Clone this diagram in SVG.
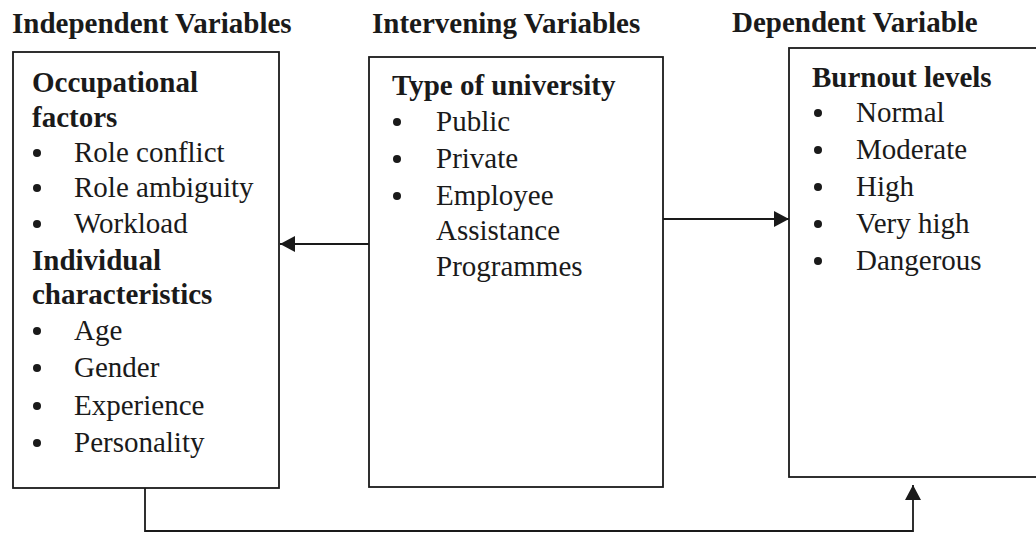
<svg xmlns="http://www.w3.org/2000/svg" width="1036" height="537" viewBox="0 0 1036 537">
<style>
text{font-family:"Liberation Serif","Times New Roman",serif;font-size:29px;fill:#1a1a1a}
.b{font-weight:bold}
.box{fill:#fff;stroke:#1a1a1a;stroke-width:1.8}
.dot{fill:#1a1a1a}
.con{fill:none;stroke:#1a1a1a;stroke-width:1.8}
</style>
<defs>
<marker id="ah" markerUnits="userSpaceOnUse" markerWidth="16" markerHeight="16" refX="15" refY="8" orient="auto">
<path d="M0,0 L15,8 L0,16 Z" fill="#1a1a1a"/>
</marker>
</defs>
<rect width="1036" height="537" fill="#fff"/>
<g id="headers">
<text class="b" x="12" y="33">Independent Variables</text>
<text class="b" x="372" y="33">Intervening Variables</text>
<text class="b" x="732" y="32">Dependent Variable</text>
</g>
<g id="independent">
<rect class="box" x="13" y="52" width="266" height="436"/>
<text class="b" x="32" y="92">Occupational</text>
<text class="b" x="32" y="127">factors</text>
<circle class="dot" cx="37" cy="153" r="4"/><text x="74" y="162">Role conflict</text>
<circle class="dot" cx="37" cy="188" r="4"/><text x="74" y="197">Role ambiguity</text>
<circle class="dot" cx="37" cy="224" r="4"/><text x="74" y="233">Workload</text>
<text class="b" x="32" y="270">Individual</text>
<text class="b" x="32" y="304">characteristics</text>
<circle class="dot" cx="37" cy="331" r="4"/><text x="74" y="340">Age</text>
<circle class="dot" cx="37" cy="368" r="4"/><text x="74" y="377">Gender</text>
<circle class="dot" cx="37" cy="406" r="4"/><text x="74" y="415">Experience</text>
<circle class="dot" cx="37" cy="443" r="4"/><text x="74" y="452">Personality</text>
</g>
<g id="intervening">
<rect class="box" x="369" y="57" width="294" height="430"/>
<text class="b" x="392" y="95">Type of university</text>
<circle class="dot" cx="397" cy="122" r="4"/><text x="436" y="131">Public</text>
<circle class="dot" cx="397" cy="159" r="4"/><text x="436" y="168">Private</text>
<circle class="dot" cx="397" cy="196" r="4"/><text x="436" y="205">Employee</text>
<text x="436" y="240">Assistance</text>
<text x="436" y="276">Programmes</text>
</g>
<g id="dependent">
<rect class="box" x="789" y="48" width="260" height="429"/>
<text class="b" x="812" y="87">Burnout levels</text>
<circle class="dot" cx="818" cy="113" r="4"/><text x="856" y="122">Normal</text>
<circle class="dot" cx="818" cy="150" r="4"/><text x="856" y="159">Moderate</text>
<circle class="dot" cx="818" cy="187" r="4"/><text x="856" y="196">High</text>
<circle class="dot" cx="818" cy="224" r="4"/><text x="856" y="233">Very high</text>
<circle class="dot" cx="818" cy="261" r="4"/><text x="856" y="270">Dangerous</text>
</g>
<g id="connectors">
<path class="con" d="M369,244 H280" marker-end="url(#ah)"/>
<path class="con" d="M663,219 H789" marker-end="url(#ah)"/>
<path class="con" d="M145,488 V531 H913 V485" marker-end="url(#ah)"/>
</g>
</svg>
